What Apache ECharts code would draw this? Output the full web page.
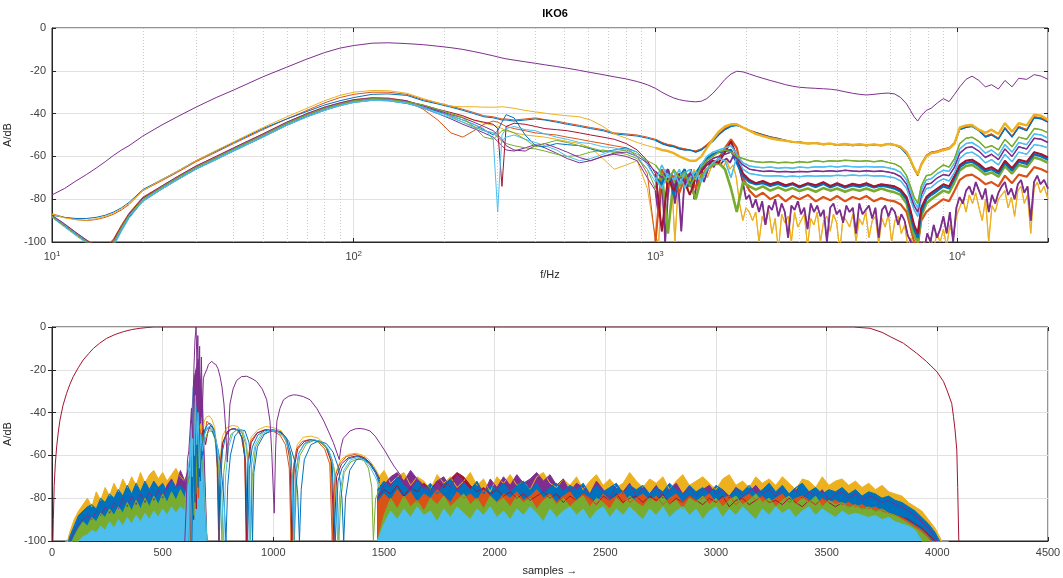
<!DOCTYPE html>
<html>
<head>
<meta charset="utf-8">
<title>IKO6</title>
<script src="https://cdn.jsdelivr.net/npm/echarts@6.0.0/dist/echarts.min.js"></script>
<style>
  html, body { margin: 0; padding: 0; background: #fff; }
  #chart { width: 1063px; height: 578px; }
</style>
</head>
<body>
<div id="chart"></div>
<script>
// matlab default line colours
const C = {
  blue: '#0072BD', orange: '#D95319', yellow: '#EDB120', purple: '#7E2F8E',
  green: '#77AC30', lightblue: '#4DBEEE', darkred: '#A2142F'
};

// ---- upper plot: frequency grid (Hz) ----
const freqLow = [10,11,12,13,14,15,16,17,18,20,23,26,30,35,40,50,60,70,80,90,100,115,130,150];
const freqMid = [170,190,210,230,250,270,290,300,310,320,340,370,400,430,470,510,560,610,670,730,800,870,940,1000];
const freqHigh = [1050,1100,1150,1200,1250,1300,1360,1420,1480,1550,
  1620,1700,1780,1860,1950,2050,2150,2270,2400,2550,
  2700,2850,3000,3200,3400,3600,3800,4000,4250,4500,
  4750,5000,5300,5600,5900,6200,6500,6800,7000,7200,
  7400,7600,7900,8200,8600,9000,9400,9800,10200,10700,
  11200,11800,12400,13000,13700,14400,15200,16000,17000,18000,
  19000,20000];
// finer grid above 1 kHz for the two noisiest traces
const freqDense = [1000,1025,1051,1077,1104,1131,1160,1189,1218,1249,
  1280,1312,1345,1379,1413,1448,1485,1522,1560,1599,
  1639,1680,1722,1765,1809,1854,1900,1948,1997,2046,
  2098,2150,2204,2259,2315,2373,2433,2493,2556,2620,
  2685,2752,2821,2892,2964,3038,3114,3192,3271,3353,
  3437,3523,3611,3701,3794,3889,3986,4085,4188,4292,
  4400,4510,4622,4738,4856,4978,5102,5230,5360,5494,
  5632,5772,5917,6065,6216,6372,6531,6694,6862,7033,
  7209,7389,7574,7763,7958,8157,8361,8570,8784,9003,
  9228,9459,9696,9938,10187,10441,10702,10970,11244,11525,
  11814,12109,12412,12722,13040,13366,13700,14043,14394,14754,
  15122,15500,15888,16285,16692,17110,17537,17976,18425,18886,
  19400,20000];
const freq = freqLow.concat(freqMid, freqHigh);
const freqNoisy = freqLow.concat(freqMid.slice(0, -1), freqDense);
const minorFreq = [20,30,40,50,60,70,80,90,200,300,400,500,600,700,800,900,2000,3000,4000,5000,6000,7000,8000,9000];

// magnitudes in dB, one value per freq entry (low | mid | high)
const magRef = [
  -78,-75,-71.5,-68.5,-65.5,-62.5,-59.5,-57,-55,-50.5,-45.5,-41.5,-37,-32.5,-29,-22.8,-18.3,-14.5,-11.5,-9.4,-8.2,-7.1,-6.9,-7.3,
  -7.8,-8.5,-9.2,-10,-11,-12,-13,-13.5,-14,-14.4,-15,-15.8,-16.5,-17.2,-18,-18.8,-19.8,-20.8,-21.8,-22.8,-23.8,-25,-26.5,-28.2,
  -30,-31.5,-32.7,-33.5,-34,-34.3,-34.5,-34.2,-33,-30.5,
  -27.5,-24,-21.5,-20.2,-20.5,-21.5,-22.5,-23.5,-24.5,-25.5,
  -26.5,-27.2,-27.7,-28,-28.2,-28.4,-28.6,-29,-29.8,-30.5,
  -31,-31.3,-31,-30.6,-30.4,-30.8,-32.5,-35.5,-38.5,-41.5,
  -43.5,-41,-38.5,-37.5,-35,-33,-34.4,-31,-27.5,-24,
  -22.5,-24.5,-27.5,-26.5,-28.5,-24.5,-27.5,-23.5,-24,-21.8,
  -22.5,-24
];
const magBlueA = [
  -87.5,-88.5,-89,-89,-88.5,-87.5,-86,-84,-81.5,-75.5,-71,-67,-62,-57.5,-53.5,-47,-42.5,-39,-36,-34,-32.5,-31,-30.8,-31.5,
  -34,-35.5,-37,-38.5,-40,-41.5,-42,-42.5,-43,-43,-43.5,-43,-42.5,-43,-44,-45,-46,-47,-48,-49.5,-50,-50.5,-51.5,-52.5,
  -54,-55,-55.5,-56.5,-57,-57,-58,-57,-55,-53,
  -50,-47.5,-46,-45.5,-46.5,-48,-49,-50,-51,-51.8,
  -52.5,-53.3,-53.3,-54,-53.8,-54.5,-54.2,-54.8,-54.4,-55,
  -54.6,-55,-54.6,-55,-54.2,-54.7,-56,-59,-62,-66,
  -69,-64,-60,-58.5,-58,-57,-56.5,-54,-47.5,-46.5,
  -46,-48,-51,-50,-52,-47,-51,-46.5,-48,-42,
  -42.5,-44
];
const magOrangeA = [
  -86.8,-88.5,-89.5,-90,-89.5,-88.5,-87,-85,-82.5,-76,-71.5,-67.5,-62.5,-58,-54,-47.5,-42.5,-38.5,-35,-32.5,-31,-30,-30,-31,
  -33.5,-35,-36.5,-38,-39.5,-41,-41.5,-42,-42.5,-42.5,-43,-42.5,-42,-42.8,-43.5,-44.5,-45.5,-46.5,-47.5,-49,-49.5,-50,-51,-52,
  -53.5,-54.5,-55,-56,-56.5,-57,-57.5,-56.5,-54.5,-52,
  -49.5,-47,-45.5,-45.3,-46.5,-47.8,-48.8,-49.8,-50.8,-51.6,
  -52.5,-53.3,-53.2,-54,-53.6,-54.4,-54,-54.6,-54.2,-54.8,
  -54.4,-55,-54.4,-54.8,-54,-54.5,-55.8,-58.5,-61.5,-65.5,
  -68.5,-63.5,-59.5,-58,-57.5,-56.5,-56,-53.5,-47,-46,
  -45.5,-47.5,-50.5,-49.5,-51.5,-46.5,-50.5,-46,-47.5,-41.5,
  -42,-43.5
];
const magYellowA = [
  -87,-88.7,-89.6,-89.8,-89.2,-88,-86.5,-84.5,-82,-76,-71,-67,-62,-57.2,-53.2,-46.5,-41.5,-37.5,-34,-31.5,-30,-29.2,-29.3,-30.5,
  -33,-35,-36.5,-36.8,-36.8,-37,-37,-37,-36.8,-37,-37.5,-38.5,-39.2,-39.8,-40.5,-41,-41.5,-43,-46,-49.5,-51.5,-53.5,-55,-56,
  -57,-57.5,-58.5,-60,-61,-62,-62,-60,-56,-52,
  -48.5,-46,-45,-45,-46.5,-48,-49.5,-50.5,-51.5,-52.2,
  -52.7,-53.2,-53.5,-54,-53.8,-54.3,-54,-54.6,-54.2,-54.7,
  -54.3,-54.8,-54.4,-54.9,-54.2,-54.6,-55.5,-58,-61.5,-65.5,
  -68.5,-64,-60,-58.5,-58,-57,-56.5,-54,-46.5,-45.5,
  -45.3,-47.5,-49,-47.5,-49.5,-44.5,-48.5,-44.5,-45.5,-40.5,
  -41,-43
];
const magGreen1 = [
  -88,-92.5,-96.5,-100,-103,-105,-100,-93,-87.5,-80,-74.5,-70,-65,-60.5,-56.5,-50,-44.5,-40.5,-37.5,-35.5,-34,-33,-33.2,-34.5,
  -36,-38,-40,-42,-46,-51,-52,-50,-48,-47.5,-49,-52,-55.5,-54,-52.5,-53.5,-55,-56,-57.5,-58,-57,-59,-62,-64,
  -68,-72,-66,-70,-67,-74,-69,-65,-62,-60,
  -58,-57,-58,-60,-61,-62,-62.5,-62.8,-62.5,-63,
  -62.7,-63,-62.5,-62.8,-62,-62.5,-62,-62.3,-61.8,-62,
  -62.3,-62,-62.5,-62,-62.8,-63.5,-65,-69,-74,-79,
  -82,-74,-69,-68.5,-66,-64,-65,-61,-54,-51.5,
  -51,-53,-56,-55,-57,-52,-55.5,-51,-52,-47,
  -47.5,-49
];
const magLb1 = [
  -88.5,-93,-97,-100.5,-104,-106,-101,-94,-88,-80.5,-75,-70.5,-65.5,-61,-57,-50.5,-45,-41,-38,-36,-34.5,-33.5,-33.7,-35,
  -37,-39.5,-41,-43,-45,-47,-52,-86,-50,-47,-46,-47.5,-48,-49.5,-51,-52,-53.5,-54,-55.5,-56,-57.5,-60,-66,-72,
  -64,-70,-67,-73,-68,-66,-71,-64,-60,-58,
  -57,-56,-55,-59,-63,-64.5,-65,-65.3,-65,-65.5,
  -65.2,-65.5,-65,-65.3,-64.8,-65,-64.6,-65,-64.5,-64.8,
  -65,-64.7,-65,-64.8,-65.3,-66,-67.5,-71,-76,-81,
  -84,-76,-71,-70.5,-68,-66.5,-67,-63,-56.5,-54,
  -53.5,-55.5,-58.5,-57,-59.5,-54.5,-58,-53.5,-54.5,-49.5,
  -50,-51.5
];
const magPurple1 = [
  -87.5,-91.5,-95.5,-99,-102.5,-104.5,-100,-93,-87,-79.5,-74,-69.5,-64.5,-60,-56,-49.5,-44,-40,-37,-35,-33.5,-32.8,-33,-34,
  -36.5,-38.5,-40.5,-42,-44,-46,-48,-50,-52,-55,-57,-57.5,-55,-54,-56,-58,-60.5,-62,-60,-58.5,-58,-60,-63,-67,
  -70,-66,-74,-69,-72,-68,-70,-66,-63,-61,
  -60,-59,-58,-61,-64,-66,-66.5,-67,-66.8,-67.2,
  -67,-67.3,-67,-67.2,-66.8,-67,-66.7,-67,-66.5,-66.8,
  -67,-66.7,-67,-66.8,-67.3,-68,-69.5,-73,-78,-83,
  -86,-78,-73,-72.5,-70,-68.5,-69,-65,-58.5,-56,
  -55.5,-57.5,-60.5,-59,-61.5,-56.5,-60,-55.5,-56.5,-51.5,
  -52,-53.5
];
const magLb2 = [
  -88,-92,-96,-99.5,-103,-106,-102,-95,-89,-81,-75.5,-71,-66,-61.5,-57.5,-51,-45.5,-41.5,-38.5,-36.3,-34.8,-33.8,-34,-35.2,
  -37.5,-40,-42,-44,-46.5,-48,-49,-51,-52.5,-51,-50,-52,-53.5,-55,-57,-60,-62,-61,-59,-57,-56.5,-58,-64,-70,
  -75,-68,-71,-66,-75,-70,-67,-72,-66,-63,
  -61,-62,-70,-60,-66,-68,-68.5,-69,-69.2,-69,
  -69.5,-69.2,-69.5,-69,-69.3,-69,-69.2,-68.8,-69,-68.7,
  -69,-68.8,-69.2,-69,-69.5,-70,-71.5,-75,-80,-85,
  -88,-80,-75,-74.5,-72,-70.5,-71.5,-67.5,-61,-58.5,
  -58,-60,-63,-61.5,-64,-59,-62.5,-58,-59,-54.5,
  -55,-56
];
const magRed1 = [
  -88,-92,-96,-99.5,-102,-103.5,-99,-92.5,-87,-79.5,-74.5,-70,-65,-60.5,-56.5,-50,-44.5,-40.5,-37.5,-35.5,-34,-33,-33.2,-34.3,
  -36,-38,-39.5,-41,-43,-44,-45,-47,-74,-46,-44.5,-45,-46,-47,-47.5,-48,-49,-50,-51,-52,-54,-57,-62,-68,
  -95,-70,-76,-68,-72,-78,-70,-67,-64,-62,
  -63,-58,-53,-60,-68,-71,-72.5,-71.5,-73,-72,
  -73.5,-72.5,-74,-72.5,-73.5,-72,-73.8,-72.5,-74,-72.8,
  -73.5,-72.5,-74,-73,-73.5,-74,-75.5,-79,-85,-92,
  -96,-84,-79,-77,-75,-73,-74,-69,-64,-62,
  -61.5,-63.5,-66,-65,-67,-62,-65.5,-61.5,-62.5,-58,
  -59,-60.5
];
const magBlue1 = [
  -88.5,-92.5,-96.5,-100,-103.5,-106,-101.5,-94.5,-88.5,-81,-75.5,-71,-66,-61.5,-57.5,-51,-45.5,-41.5,-38.5,-36.3,-34.8,-33.8,-34,-35.3,
  -37,-39,-41,-43,-45,-47.5,-50,-48,-44,-40.5,-42,-50,-55,-55.5,-54,-54.5,-55,-56.5,-58,-57,-56,-58,-63,-70,
  -73,-66,-78,-70,-66,-74,-68,-64,-61,-59,
  -58,-57.5,-57,-63,-69,-72,-73,-72.5,-73.8,-72.8,
  -74,-73,-74.5,-73,-74.3,-72.8,-74.5,-73.2,-74.6,-73.5,
  -74.2,-73.3,-74.5,-73.6,-74.2,-75,-76.5,-80,-87,-94,
  -98,-86,-80,-78,-76,-74,-75,-70,-65,-63,
  -62.5,-64.5,-67,-66,-68,-63,-66.5,-62.5,-63.5,-59,
  -60,-61.5
];
const magGreen2 = [
  -87.8,-91.8,-95.8,-99.3,-102.5,-104.5,-100.5,-93.5,-87.8,-80.2,-74.8,-70.3,-65.3,-60.8,-56.8,-50.3,-44.8,-40.8,-37.8,-35.8,-34.3,-33.3,-33.5,-34.8,
  -37,-39,-41.5,-44,-46,-48,-49,-51,-53,-54,-55,-56,-56.5,-57.5,-59,-60,-59.5,-58,-57,-58,-59,-61,-66,-75,
  -68,-96,-70,-74,-68,-72,-80,-70,-66,-64,
  -63,-66,-75,-86,-72,-74,-75.5,-74,-76,-74.5,
  -76,-74.8,-76.2,-75,-76.5,-74.8,-76,-75,-76.5,-75.2,
  -76,-75,-76.3,-75,-76,-76.8,-78,-82,-90,-97,
  -100,-88,-82,-80,-78,-76,-77,-72,-66.5,-64.5,
  -64,-66,-68.5,-67.5,-69.5,-64.5,-68,-64,-65,-60.5,
  -61.5,-63
];
const magOrange1 = [
  -88,-92,-96,-99,-101.5,-103,-98.5,-92,-86.5,-79,-74,-69.5,-64.5,-60,-56,-49.5,-44,-40,-37,-35,-33.5,-32.5,-32.7,-34,
  -38,-43,-49,-51,-48,-45,-43.5,-44,-45,-46,-47,-48,-49,-49.5,-50,-51,-52,-53,-54,-55,-56,-60,-68,-100,
  -66,-74,-69,-77,-70,-68,-75,-69,-66,-64,
  -61,-56,-52,-56,-70,-76,-79,-77,-80,-78,
  -81,-78.5,-80,-78,-81,-79,-80.5,-78.5,-81,-79,
  -80,-78.5,-81,-79.5,-80.5,-81,-82.5,-86,-93,-100,
  -102,-90,-86,-84,-82,-80,-81,-76,-71,-69,
  -68.5,-70.5,-73,-72,-74,-69,-72.5,-68.5,-69.5,-65,
  -66,-67.5
];
// these two use freqNoisy (low | mid without 1 kHz | dense)
const magPurple2 = [
  -88.2,-92.2,-96.2,-99.7,-103,-105.5,-101,-94,-88.2,-80.5,-75,-70.6,-65.6,-61,-57,-50.6,-45.2,-41.2,-38.2,-36,-34.5,-33.5,-33.7,-35,
  -37.5,-40,-42.5,-45,-47,-49,-51,-53,-55,-57,-57.5,-56,-54.5,-56,-58.5,-61,-63,-62,-60,-59,-60,-62,-70,
  -76,-88,-70,-100,-74,-68,-82,-72,-95,-70,
  -74,-66,-80,-70,-64,-72,-67,-63,-65,-62,
  -64,-62,-61,-63,-60,-62,-66,-72,-80,-78,
  -84,-80,-86,-81,-92,-83,-85,-80,-88,-82,
  -86,-98,-83,-85,-81,-87,-84,-94,-82,-86,
  -83,-88,-85,-100,-84,-82,-87,-85,-91,-83,
  -86,-84,-96,-82,-87,-85,-83,-89,-84,-98,
  -85,-83,-88,-84,-86,-92,-87,-90,-97,-100,
  -106,-110,-100,-104,-96,-100,-92,-98,-94,-88,
  -96,-86,-100,-84,-79,-82,-76,-74,-78,-72,
  -76,-80,-75,-86,-78,-82,-77,-74,-72,-78,
  -75,-80,-73,-71,-77,-74,-90,-72,-69,-73,
  -71,-75
];
const magYellow2 = [
  -87.6,-91.6,-95.6,-99.1,-102.2,-104,-99.5,-92.8,-87.2,-79.8,-74.6,-70.1,-65.1,-60.6,-56.6,-50.1,-44.6,-40.6,-37.6,-35.6,-34.1,-33.1,-33.3,-34.6,
  -36.5,-38.5,-40,-41.5,-43,-44.5,-45.5,-46,-47,-48,-49,-50,-50.5,-51,-52,-53,-54,-56,-61,-66,-64,-62,-75,
  -98,-100,-72,-66,-78,-70,-100,-74,-68,-72,
  -76,-70,-66,-74,-68,-64,-70,-66,-62,-64,
  -63,-65,-62,-66,-64,-70,-82,-90,-84,-86,
  -90,-86,-100,-88,-92,-85,-96,-89,-104,-87,
  -91,-88,-100,-86,-93,-90,-87,-102,-89,-92,
  -86,-100,-90,-88,-95,-87,-91,-104,-88,-90,
  -93,-87,-100,-89,-92,-86,-98,-90,-88,-101,
  -89,-93,-87,-100,-90,-88,-96,-92,-102,-98,
  -108,-104,-112,-100,-106,-98,-103,-96,-100,-94,
  -102,-92,-98,-88,-84,-80,-86,-78,-82,-77,
  -84,-90,-80,-100,-83,-86,-80,-78,-76,-84,
  -79,-88,-76,-74,-82,-78,-96,-75,-72,-77,
  -74,-80
];

// ---- lower plot: samples ----
const winX = [0,4,6,10,15,21,28,36,50,66,80,96,120,141,165,187,215,247,285,322,360,398,430,460,
  3620,3696,3750,3787,3847,3907,3952,3998,4028,4043,4065,4073,4080,4088,4092,4097,4100];
const winY = [-120,-100,-90,-74,-64,-56,-49.5,-43.5,-36.5,-31,-27,-23.2,-18.8,-15.4,-12.5,-10,-7.6,-5.3,-3.5,-2.2,-1.2,-0.6,-0.25,0,
  0,-0.6,-2.5,-4.5,-7.6,-12.3,-16.2,-20.9,-25.5,-29.4,-35.7,-41.9,-48.1,-57.5,-75,-100,-120];

// purple response with side lobes
const lobePurple = [[600,-100],[606,-85],[612,-62],[618,-58],[624,-48],[630,-38],[636,-52],[641,-20],[646,-6],[651,0],
  [655,-18],[659,-4],[663,-32],[667,-9],[671,-45],[675,-14],[679,-40],[684,-24],[690,-22],[699,-20],[707,-17.5],[714,-17],
  [722,-16],[730,-17],[740,-17.5],[750,-19.5],[759,-23],[768,-28],[777,-36],[785,-48],[792,-63],[798,-48],[804,-36],
  [818,-29],[834,-25],[856,-23.2],[880,-23],[905,-24.2],[925,-25.5],[950,-29],[970,-34],[985,-44],[993,-59],[1004,-87],
  [1010,-58],[1016,-44],[1030,-38],[1046,-34],[1070,-32.3],[1091,-31.7],[1106,-31.8],[1135,-32.5],[1166,-34],[1196,-38],
  [1226,-43.5],[1250,-49],[1271,-54],[1288,-59],[1298,-62],[1306,-56],[1316,-52],[1346,-48.6],[1370,-47.6],[1392,-47.4],
  [1415,-47.8],[1437,-48.6],[1460,-51],[1482,-54.4],[1505,-58],[1527,-62],[1545,-65],[1557,-66.7],[1580,-70]];

const lobeBlue = [[620,-100],[628,-60],[634,-80],[640,-45],[646,-70],[652,-38],[658,-65],[664,-42],[670,-72],[676,-50],
  [682,-60],[690,-48],[700,-46],[710,-45],[720,-45.5],[732,-48],[742,-55],[750,-70],[756,-100],[762,-72],[770,-58],
  [785,-51],[805,-48],[825,-47.5],[845,-48.5],[862,-53],[875,-63],[884,-100],[892,-66],[905,-56],[930,-50.5],[960,-48.5],
  [1000,-48],[1035,-49],[1060,-52],[1080,-60],[1092,-100],[1102,-68],[1115,-59],[1140,-54.5],[1175,-52.8],[1210,-53.5],
  [1240,-56],[1265,-62],[1280,-100],[1292,-72],[1310,-66],[1340,-61.5],[1380,-60.5],[1410,-61.5],[1440,-64],[1465,-68],[1480,-72]];
const lobeOrange = [[625,-100],[632,-58],[638,-85],[645,-40],[650,-72],[656,-45],[662,-80],[668,-48],[675,-58],[682,-46],
  [690,-50],[700,-44],[712,-45.5],[725,-47],[738,-52],[746,-66],[752,-95],[758,-68],[768,-55],[790,-49],[812,-47.5],
  [835,-48],[855,-51],[870,-60],[878,-100],[886,-62],[900,-53],[925,-49.5],[960,-48],[995,-48.5],[1030,-50.5],[1055,-55],
  [1072,-66],[1080,-100],[1090,-66],[1105,-57],[1130,-53.5],[1165,-52.5],[1200,-53.5],[1232,-57],[1255,-64],[1266,-100],
  [1278,-70],[1300,-64],[1330,-60.5],[1370,-59.5],[1400,-60.5],[1430,-63],[1460,-67],[1480,-71]];
const lobeYellow = [[630,-100],[636,-50],[642,-78],[648,-35],[654,-62],[660,-44],[666,-70],[672,-42],[680,-52],[688,-44],
  [698,-42],[710,-41.5],[722,-43],[735,-47],[745,-57],[752,-80],[758,-64],[770,-51],[790,-47],[815,-46],[840,-46.5],
  [860,-50],[872,-58],[880,-96],[888,-60],[900,-51.5],[930,-48],[965,-46.5],[1000,-47],[1035,-48.5],[1060,-53],[1075,-63],
  [1085,-100],[1093,-64],[1108,-55],[1135,-51.5],[1170,-51],[1205,-52],[1235,-55.5],[1258,-62],[1270,-100],[1282,-68],
  [1305,-62],[1340,-59.5],[1375,-59],[1405,-60],[1432,-62],[1460,-66],[1480,-70]];
const lobeGreen = [[628,-100],[636,-66],[642,-88],[650,-55],[656,-78],[664,-52],[672,-64],[680,-52],[690,-53],[700,-50],
  [712,-48.5],[724,-49],[735,-52],[748,-60],[760,-75],[768,-100],[776,-68],[790,-56],[810,-50],[835,-48],[858,-49],
  [876,-55],[890,-68],[897,-100],[905,-70],[920,-56],[950,-50.5],[985,-48.5],[1020,-49],[1050,-51.5],[1075,-58],[1088,-72],
  [1095,-100],[1105,-72],[1120,-60],[1150,-54.5],[1185,-53],[1220,-54.5],[1252,-58],[1275,-66],[1290,-82],[1296,-100],
  [1305,-80],[1320,-68],[1350,-63],[1385,-61.5],[1410,-62.5],[1430,-66],[1445,-75],[1452,-100],[1462,-80],[1480,-76]];
const lobeLightblue = [[622,-100],[628,-45],[634,-70],[638,-28],[644,-60],[648,-32],[654,-55],[660,-40],[666,-66],[672,-50],
  [680,-58],[690,-50],[700,-47],[712,-46.5],[725,-47.5],[738,-51],[750,-58],[762,-70],[770,-84],[776,-100],[784,-70],
  [798,-56],[818,-49.5],[840,-47.5],[862,-48.5],[878,-54],[888,-64],[894,-100],[902,-64],[918,-55],[945,-50],[985,-48],
  [1020,-48.8],[1050,-51.5],[1072,-58],[1085,-70],[1092,-100],[1100,-70],[1115,-59],[1145,-54],[1180,-52.5],[1215,-53.5],
  [1248,-57],[1270,-64],[1285,-78],[1290,-100],[1300,-78],[1318,-67],[1350,-62],[1385,-61],[1415,-62.5],[1440,-66],[1465,-71],[1480,-75]];
const lobeRed = [[626,-100],[634,-62],[640,-90],[646,-50],[652,-85],[660,-48],[666,-70],[674,-52],[684,-48],[694,-55],
  [704,-49],[716,-46],[728,-47.5],[740,-53],[748,-64],[754,-100],[760,-66],[772,-54],[795,-48.5],[820,-47.5],[842,-48],
  [860,-52],[872,-62],[878,-100],[886,-64],[900,-54],[928,-49.5],[965,-48],[1000,-48.2],[1035,-49.5],[1060,-53.5],[1076,-62],
  [1084,-100],[1094,-66],[1110,-57],[1140,-53.5],[1175,-52.6],[1210,-53.5],[1240,-56.5],[1262,-63],[1274,-100],[1286,-70],
  [1308,-64],[1340,-61],[1378,-60.2],[1410,-61],[1438,-63.5],[1462,-67.5],[1480,-71]];
const lobeBlue2 = [[632,-100],[640,-55],[646,-82],[652,-48],[660,-75],[668,-50],[676,-62],[686,-50],[698,-48],[710,-47],
  [724,-48.5],[738,-52],[752,-58],[766,-68],[778,-82],[786,-100],[794,-74],[806,-60],[826,-51],[850,-48],[872,-48.5],
  [890,-54],[900,-64],[906,-100],[912,-68],[928,-56],[960,-50],[1000,-48.3],[1040,-49.5],[1070,-53.5],[1095,-62],[1110,-78],
  [1118,-100],[1126,-76],[1140,-62],[1170,-55],[1205,-53.2],[1240,-54.5],[1270,-58.5],[1295,-66],[1310,-80],[1318,-100],
  [1326,-80],[1345,-67],[1375,-62],[1405,-61.5],[1435,-64],[1460,-68],[1480,-73]];

// noise floor, upper edge of each colour (left part: samples 60..700 step 20, right part: 1470..4050 step 30)
const noiseLeftStart = 60, noiseLeftStep = 20;
const noiseRightStart = 1470, noiseRightStep = 30;

const noiseYellowL = [-104,-96,-90,-86,-83,-80,-84,-77,-81,-75,-79,-73,-77,-71,-75,-70,-74,-68,-73,-69,-67,-71,-68,-72,-69,-66,-70,-72,-68,-58,-45,-50,-100];
const noisePurpleL = [-108,-100,-96,-92,-90,-88,-90,-86,-88,-84,-87,-82,-85,-80,-84,-79,-83,-78,-82,-77,-81,-76,-80,-74,-71,-75,-67,-72,-65,-25,-15,-35,-100];
const noiseBlueL = [-106,-98,-93,-88,-86,-84,-83,-85,-80,-82,-78,-80,-76,-79,-74,-78,-73,-77,-72,-76,-72,-75,-73,-77,-72,-75,-74,-77,-70,-60,-55,-60,-100];
const noiseGreenL = [-110,-103,-98,-94,-91,-93,-89,-91,-87,-89,-85,-88,-84,-87,-82,-86,-81,-85,-80,-84,-79,-83,-78,-82,-77,-81,-76,-80,-70,-55,-58,-62,-100];
const noiseLightblueL = [-115,-108,-104,-100,-98,-97,-95,-96,-93,-95,-91,-94,-90,-93,-89,-92,-88,-91,-87,-90,-86,-89,-85,-88,-84,-87,-84,-86,-62,-40,-48,-58,-100];

const noiseYellowR = [
  -71,-67,-73,-70,-68,-74,-70,-72,-76,-69, -73,-70,-75,-72,-68,-74,-71,-77,-70,-73,
  -69,-74,-72,-76,-70,-68,-73,-75,-71,-74, -70,-76,-72,-69,-74,-71,-75,-73,-68,-72,
  -75,-71,-73,-70,-76,-72,-69,-74,-72,-70, -73,-76,-71,-69,-74,-72,-75,-70,-73,-71,
  -74,-70,-73,-76,-71,-72,-75,-70,-74,-72, -71,-74,-72,-75,-73,-76,-74,-77,-78,-79,
  -82,-84,-86,-90,-94,-100,-110];
const noisePurpleR = [
  -80,-74,-70,-68,-72,-67,-71,-74,-78,-72, -70,-75,-69,-72,-76,-73,-78,-71,-75,-70,
  -74,-69,-73,-71,-68,-72,-69,-74,-71,-77, -73,-75,-78,-72,-76,-80,-74,-77,-73,-79,
  -75,-78,-74,-80,-76,-73,-78,-75,-79,-76, -74,-78,-76,-80,-75,-79,-77,-74,-78,-76,
  -79,-75,-78,-76,-80,-77,-79,-76,-81,-78, -77,-80,-78,-81,-79,-80,-82,-81,-83,-84,
  -86,-88,-91,-94,-98,-105,-112];
const noiseBlueR = [
  -76,-72,-75,-70,-74,-77,-72,-76,-73,-78, -74,-71,-77,-73,-76,-72,-78,-74,-76,-73,
  -77,-74,-72,-76,-73,-78,-75,-73,-77,-74, -76,-73,-78,-74,-77,-75,-73,-78,-74,-76,
  -74,-78,-75,-77,-73,-76,-78,-74,-77,-75, -78,-74,-76,-79,-75,-77,-74,-78,-76,-73,
  -77,-74,-78,-75,-73,-77,-75,-78,-76,-77, -75,-78,-76,-79,-77,-78,-80,-79,-81,-82,
  -84,-86,-89,-92,-96,-102,-112];
const noiseRedR = [
  -80,-76,-78,-74,-79,-75,-77,-73,-76,-72, -75,-71,-68,-70,-74,-77,-75,-78,-76,-79,
  -77,-80,-78,-81,-79,-77,-80,-78,-82,-79, -81,-78,-80,-83,-79,-81,-78,-82,-80,-79,
  -82,-79,-81,-78,-83,-80,-82,-79,-81,-83, -80,-82,-79,-84,-81,-80,-83,-81,-79,-82,
  -81,-83,-80,-82,-84,-81,-83,-80,-82,-84, -82,-84,-83,-85,-84,-86,-85,-87,-88,-89,
  -90,-92,-94,-97,-100,-106,-115];
const noiseOrangeR = [
  -82,-78,-81,-76,-80,-77,-82,-78,-80,-76, -79,-82,-77,-80,-78,-81,-76,-79,-82,-78,
  -80,-77,-81,-79,-76,-80,-78,-82,-79,-77, -81,-78,-80,-83,-78,-81,-79,-77,-82,-80,
  -78,-81,-79,-83,-80,-78,-82,-79,-81,-80, -78,-82,-80,-79,-83,-80,-78,-81,-79,-82,
  -80,-78,-82,-80,-79,-81,-83,-80,-82,-81, -83,-82,-84,-83,-85,-84,-86,-87,-88,-89,
  -91,-93,-95,-98,-102,-108,-115];
const noiseGreenR = [
  -100,-88,-80,-85,-79,-84,-81,-86,-80,-83, -79,-84,-81,-78,-83,-80,-85,-79,-82,-80,
  -84,-79,-82,-80,-85,-81,-79,-83,-80,-84, -81,-79,-84,-80,-82,-85,-80,-83,-79,-82,
  -84,-80,-82,-79,-83,-81,-85,-80,-82,-79, -83,-80,-84,-81,-79,-83,-81,-78,-82,-80,
  -84,-81,-79,-83,-80,-82,-79,-84,-81,-83, -82,-84,-83,-85,-84,-86,-85,-87,-88,-90,
  -92,-94,-96,-99,-104,-110,-118];
const noiseLightblueR = [
  -100,-92,-86,-90,-85,-89,-84,-88,-86,-91, -85,-89,-84,-87,-90,-85,-88,-84,-89,-86,
  -90,-85,-88,-84,-87,-91,-85,-89,-86,-84, -88,-85,-90,-86,-84,-89,-85,-88,-84,-87,
  -90,-85,-88,-84,-89,-86,-84,-88,-85,-90, -86,-84,-89,-85,-88,-84,-87,-90,-85,-88,
  -84,-87,-85,-89,-86,-84,-88,-85,-87,-89, -86,-88,-87,-88,-89,-88,-90,-89,-91,-92,
  -93,-95,-100,-108,-115,-120,-125];

// ---------------------------------------------------------------
const AXIS_COLOR = '#262626';
const LABEL_COLOR = '#404040';
const FONT = 'Helvetica, Arial, "Liberation Sans", sans-serif';

function zip(xs, ys) { return xs.map((x, i) => [x, ys[i]]); }
function stepAxis(start, step, n) { return Array.from({ length: n }, (_, i) => start + i * step); }

function line(data, color, extra, width) {
  return Object.assign({
    type: 'line', data: data, symbol: 'none', showSymbol: false, silent: true,
    animation: false, clip: true,
    lineStyle: { color: color, width: width || 1 }, itemStyle: { color: color }
  }, extra || {});
}

function area(xs, ys, color) {
  return line(zip(xs, ys), color, {
    xAxisIndex: 1, yAxisIndex: 1,
    areaStyle: { color: color, opacity: 1, origin: 'start' }
  });
}

const chart = echarts.init(document.getElementById('chart'));

// upper plot
const upperAxes = { xAxisIndex: 0, yAxisIndex: 0 };
const upperSeries = [
  line(zip(freq, magRef), C.purple, Object.assign({
    markLine: {
      silent: true, symbol: 'none', z: 1, animation: false,
      label: { show: false },
      lineStyle: { color: '#cbcbcb', type: [1, 2], width: 1 },
      data: minorFreq.map(f => ({ xAxis: f }))
    }
  }, upperAxes))
];
// [frequencies, values, colour, line width of the noisy part above 1 kHz]
[
  [freqNoisy, magYellow2, C.yellow, 1.2], [freqNoisy, magPurple2, C.purple, 1.8],
  [freq, magOrange1, C.orange, 2.2], [freq, magGreen2, C.green, 2.6],
  [freq, magBlue1, C.blue, 2.4], [freq, magRed1, C.darkred, 2], [freq, magLb2, C.lightblue, 1.5],
  [freq, magPurple1, C.purple, 1.5], [freq, magLb1, C.lightblue, 1.5], [freq, magGreen1, C.green, 1.5],
  [freq, magOrangeA, C.orange, 1.2], [freq, magBlueA, C.blue, 1.2], [freq, magYellowA, C.yellow, 2.4]
].forEach(([f, v, c, w]) => {
  const pts = zip(f, v);
  upperSeries.push(line(pts, c, upperAxes));
  upperSeries.push(line(pts.filter(p => p[0] >= 1000), c, upperAxes, w));
});

// lower plot
const xl = stepAxis(noiseLeftStart, noiseLeftStep, noiseYellowL.length);
const xr = stepAxis(noiseRightStart, noiseRightStep, noiseYellowR.length);
const lowerAxes = { xAxisIndex: 1, yAxisIndex: 1 };
const lowerSeries = [
  area(xl, noiseYellowL, C.yellow), area(xr, noiseYellowR, C.yellow),
  area(xr, noiseRedR, C.darkred),
  area(xl, noisePurpleL, C.purple), area(xr, noisePurpleR, C.purple),
  area(xl, noiseBlueL, C.blue), area(xr, noiseBlueR, C.blue),
  area(xr, noiseOrangeR, C.orange),
  area(xl, noiseGreenL, C.green), area(xr, noiseGreenR, C.green),
  area(xl, noiseLightblueL, C.lightblue), area(xr, noiseLightblueR, C.lightblue),
  line(lobeYellow, C.yellow, lowerAxes),
  line(lobeOrange, C.orange, lowerAxes),
  line(lobeRed, C.darkred, lowerAxes),
  line(lobeGreen, C.green, lowerAxes),
  line(lobeBlue, C.blue, lowerAxes),
  line(lobeBlue2, C.blue, lowerAxes),
  line(lobeLightblue, C.lightblue, lowerAxes),
  line(lobePurple, C.purple, lowerAxes),
  line(zip(winX, winY), C.darkred, lowerAxes)
];

const labelStyle = { color: LABEL_COLOR, fontSize: 11, fontFamily: FONT };
const nameStyle = { color: AXIS_COLOR, fontSize: 11, fontFamily: FONT };
const gridLine = { show: true, lineStyle: { color: '#e1e1e1', width: 1 } };
const tickIn = { show: true, inside: true, length: 4, lineStyle: { color: AXIS_COLOR } };

function yAxis(gridIndex) {
  return {
    gridIndex: gridIndex, type: 'value', min: -100, max: 0, interval: 20,
    name: 'A/dB', nameLocation: 'middle', nameGap: 36, nameRotate: 90, nameTextStyle: nameStyle,
    axisLine: { show: true, lineStyle: { color: AXIS_COLOR } },
    axisTick: tickIn,
    axisLabel: Object.assign({ margin: 6 }, labelStyle),
    splitLine: gridLine
  };
}
// box ticks on the right and top edges
function boxAxis(gridIndex, pos, extra) {
  return Object.assign({
    gridIndex: gridIndex, position: pos,
    axisLine: { show: false }, axisTick: tickIn,
    axisLabel: { show: false }, splitLine: { show: false }
  }, extra);
}

chart.setOption({
  backgroundColor: '#fff',
  animation: false,
  title: {
    text: 'IKO6', left: 550, top: 3, textAlign: 'center',
    textStyle: { fontSize: 11, fontWeight: 'bold', color: '#000', fontFamily: FONT }
  },
  grid: [
    { left: 52, top: 28, width: 996, height: 214, show: true, borderColor: AXIS_COLOR, borderWidth: 1,
      backgroundColor: 'transparent', containLabel: false, outerBoundsMode: 'none' },
    { left: 52, top: 327, width: 996, height: 214, show: true, borderColor: AXIS_COLOR, borderWidth: 1,
      backgroundColor: 'transparent', containLabel: false, outerBoundsMode: 'none' }
  ],
  xAxis: [
    {
      gridIndex: 0, type: 'log', logBase: 10, min: 10, max: 20000,
      name: 'f/Hz', nameLocation: 'middle', nameGap: 27, nameTextStyle: nameStyle,
      axisLine: { show: true, onZero: false, lineStyle: { color: AXIS_COLOR } },
      axisTick: tickIn,
      axisLabel: Object.assign({
        margin: 8,
        formatter: v => {
          const e = Math.log10(v);
          return Math.abs(e - Math.round(e)) < 1e-9 ? '10{sup|' + Math.round(e) + '}' : '';
        },
        rich: { sup: { fontSize: 8, verticalAlign: 'top', color: LABEL_COLOR, fontFamily: FONT, padding: [0, 0, 5, 0] } }
      }, labelStyle),
      splitLine: gridLine
    },
    {
      gridIndex: 1, type: 'value', min: 0, max: 4500, interval: 500,
      name: 'samples \u2192', nameLocation: 'middle', nameGap: 24, nameTextStyle: nameStyle,
      axisLine: { show: true, onZero: false, lineStyle: { color: AXIS_COLOR } },
      axisTick: tickIn,
      axisLabel: Object.assign({ margin: 6, formatter: v => String(v) }, labelStyle),
      splitLine: gridLine
    },
    boxAxis(0, 'top', { type: 'log', logBase: 10, min: 10, max: 20000 }),
    boxAxis(1, 'top', { type: 'value', min: 0, max: 4500, interval: 500 })
  ],
  yAxis: [
    yAxis(0), yAxis(1),
    boxAxis(0, 'right', { type: 'value', min: -100, max: 0, interval: 20 }),
    boxAxis(1, 'right', { type: 'value', min: -100, max: 0, interval: 20 })
  ],
  series: upperSeries.concat(lowerSeries)
});
</script>
</body>
</html>
